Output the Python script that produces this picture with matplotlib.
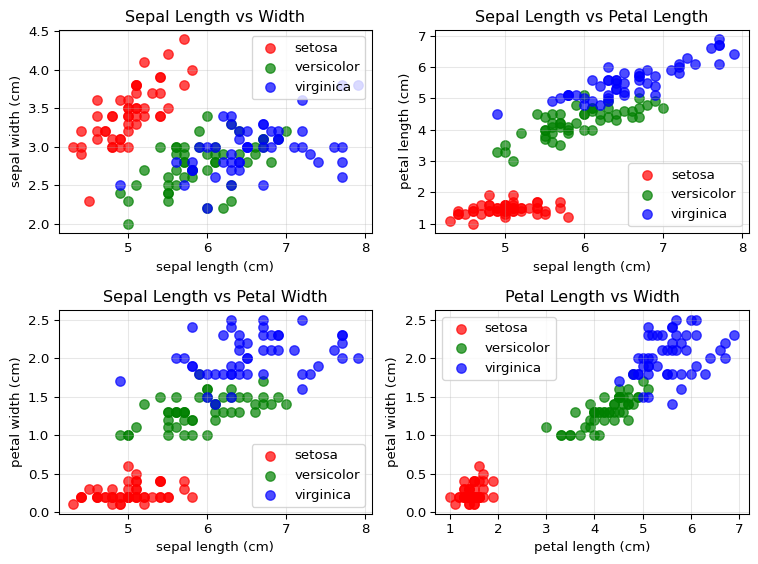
import matplotlib
matplotlib.use("Agg")
import matplotlib.pyplot as plt
import numpy as np

# Iris measurements (cm), 50 rows per species
SPECIES = ["setosa", "versicolor", "virginica"]
COLORS = ["red", "green", "blue"]

SEPAL_LENGTH = [
    5.1, 4.9, 4.7, 4.6, 5.0, 5.4, 4.6, 5.0, 4.4, 4.9, 5.4, 4.8, 4.8, 4.3, 5.8, 5.7, 5.4, 5.1, 5.7, 5.1,
    5.4, 5.1, 4.6, 5.1, 4.8, 5.0, 5.0, 5.2, 5.2, 4.7, 4.8, 5.4, 5.2, 5.5, 4.9, 5.0, 5.5, 4.9, 4.4, 5.1,
    5.0, 4.5, 4.4, 5.0, 5.1, 4.8, 5.1, 4.6, 5.3, 5.0,
    7.0, 6.4, 6.9, 5.5, 6.5, 5.7, 6.3, 4.9, 6.6, 5.2, 5.0, 5.9, 6.0, 6.1, 5.6, 6.7, 5.6, 5.8, 6.2, 5.6,
    5.9, 6.1, 6.3, 6.1, 6.4, 6.6, 6.8, 6.7, 6.0, 5.7, 5.5, 5.5, 5.8, 6.0, 5.4, 6.0, 6.7, 6.3, 5.6, 5.5,
    5.5, 6.1, 5.8, 5.0, 5.6, 5.7, 5.7, 6.2, 5.1, 5.7,
    6.3, 5.8, 7.1, 6.3, 6.5, 7.6, 4.9, 7.3, 6.7, 7.2, 6.5, 6.4, 6.8, 5.7, 5.8, 6.4, 6.5, 7.7, 7.7, 6.0,
    6.9, 5.6, 7.7, 6.3, 6.7, 7.2, 6.2, 6.1, 6.4, 7.2, 7.4, 7.9, 6.4, 6.3, 6.1, 7.7, 6.3, 6.4, 6.0, 6.9,
    6.7, 6.9, 5.8, 6.8, 6.7, 6.7, 6.3, 6.5, 6.2, 5.9,
]
SEPAL_WIDTH = [
    3.5, 3.0, 3.2, 3.1, 3.6, 3.9, 3.4, 3.4, 2.9, 3.1, 3.7, 3.4, 3.0, 3.0, 4.0, 4.4, 3.9, 3.5, 3.8, 3.8,
    3.4, 3.7, 3.6, 3.3, 3.4, 3.0, 3.4, 3.5, 3.4, 3.2, 3.1, 3.4, 4.1, 4.2, 3.1, 3.2, 3.5, 3.6, 3.0, 3.4,
    3.5, 2.3, 3.2, 3.5, 3.8, 3.0, 3.8, 3.2, 3.7, 3.3,
    3.2, 3.2, 3.1, 2.3, 2.8, 2.8, 3.3, 2.4, 2.9, 2.7, 2.0, 3.0, 2.2, 2.9, 2.9, 3.1, 3.0, 2.7, 2.2, 2.5,
    3.2, 2.8, 2.5, 2.8, 2.9, 3.0, 2.8, 3.0, 2.9, 2.6, 2.4, 2.4, 2.7, 2.7, 3.0, 3.4, 3.1, 2.3, 3.0, 2.5,
    2.6, 3.0, 2.6, 2.3, 2.7, 3.0, 2.9, 2.9, 2.5, 2.8,
    3.3, 2.7, 3.0, 2.9, 3.0, 3.0, 2.5, 2.9, 2.5, 3.6, 3.2, 2.7, 3.0, 2.5, 2.8, 3.2, 3.0, 3.8, 2.6, 2.2,
    3.2, 2.8, 2.8, 2.7, 3.3, 3.2, 2.8, 3.0, 2.8, 3.0, 2.8, 3.8, 2.8, 2.8, 2.6, 3.0, 3.4, 3.1, 3.0, 3.1,
    3.1, 3.1, 2.7, 3.2, 3.3, 3.0, 2.5, 3.0, 3.4, 3.0,
]
PETAL_LENGTH = [
    1.4, 1.4, 1.3, 1.5, 1.4, 1.7, 1.4, 1.5, 1.4, 1.5, 1.5, 1.6, 1.4, 1.1, 1.2, 1.5, 1.3, 1.4, 1.7, 1.5,
    1.7, 1.5, 1.0, 1.7, 1.9, 1.6, 1.6, 1.5, 1.4, 1.6, 1.6, 1.5, 1.5, 1.4, 1.5, 1.2, 1.3, 1.4, 1.3, 1.5,
    1.3, 1.3, 1.3, 1.6, 1.9, 1.4, 1.6, 1.4, 1.5, 1.4,
    4.7, 4.5, 4.9, 4.0, 4.6, 4.5, 4.7, 3.3, 4.6, 3.9, 3.5, 4.2, 4.0, 4.7, 3.6, 4.4, 4.5, 4.1, 4.5, 3.9,
    4.8, 4.0, 4.9, 4.7, 4.3, 4.4, 4.8, 5.0, 4.5, 3.5, 3.8, 3.7, 3.9, 5.1, 4.5, 4.5, 4.7, 4.4, 4.1, 4.0,
    4.4, 4.6, 4.0, 3.3, 4.2, 4.2, 4.2, 4.3, 3.0, 4.1,
    6.0, 5.1, 5.9, 5.6, 5.8, 6.6, 4.5, 6.3, 5.8, 6.1, 5.1, 5.3, 5.5, 5.0, 5.1, 5.3, 5.5, 6.7, 6.9, 5.0,
    5.7, 4.9, 6.7, 4.9, 5.7, 6.0, 4.8, 4.9, 5.6, 5.8, 6.1, 6.4, 5.6, 5.1, 5.6, 6.1, 5.6, 5.5, 4.8, 5.4,
    5.6, 5.1, 5.1, 5.9, 5.7, 5.2, 5.0, 5.2, 5.4, 5.1,
]
PETAL_WIDTH = [
    0.2, 0.2, 0.2, 0.2, 0.2, 0.4, 0.3, 0.2, 0.2, 0.1, 0.2, 0.2, 0.1, 0.1, 0.2, 0.4, 0.4, 0.3, 0.3, 0.3,
    0.2, 0.4, 0.2, 0.5, 0.2, 0.2, 0.4, 0.2, 0.2, 0.2, 0.2, 0.4, 0.1, 0.2, 0.2, 0.2, 0.2, 0.1, 0.2, 0.2,
    0.3, 0.3, 0.2, 0.6, 0.4, 0.3, 0.2, 0.2, 0.2, 0.2,
    1.4, 1.5, 1.5, 1.3, 1.5, 1.3, 1.6, 1.0, 1.3, 1.4, 1.0, 1.5, 1.0, 1.4, 1.3, 1.4, 1.5, 1.0, 1.5, 1.1,
    1.8, 1.3, 1.5, 1.2, 1.3, 1.4, 1.4, 1.7, 1.5, 1.0, 1.1, 1.0, 1.2, 1.6, 1.5, 1.6, 1.5, 1.3, 1.3, 1.3,
    1.2, 1.4, 1.2, 1.0, 1.3, 1.2, 1.3, 1.3, 1.1, 1.3,
    2.5, 1.9, 2.1, 1.8, 2.2, 2.1, 1.7, 1.8, 1.8, 2.5, 2.0, 1.9, 2.1, 2.0, 2.4, 2.3, 1.8, 2.2, 2.3, 1.5,
    2.3, 2.0, 2.0, 1.8, 2.1, 1.8, 1.8, 1.8, 2.1, 1.6, 1.9, 2.0, 2.2, 1.5, 1.4, 2.3, 2.4, 1.8, 1.8, 2.1,
    2.4, 2.3, 1.9, 2.3, 2.5, 2.3, 1.9, 2.0, 2.3, 1.8,
]
TARGET = [0] * 50 + [1] * 50 + [2] * 50

COLUMNS = {
    "sepal length (cm)": np.array(SEPAL_LENGTH),
    "sepal width (cm)": np.array(SEPAL_WIDTH),
    "petal length (cm)": np.array(PETAL_LENGTH),
    "petal width (cm)": np.array(PETAL_WIDTH),
}

PANELS = [
    ("sepal length (cm)", "sepal width (cm)", "Sepal Length vs Width", "upper right"),
    ("sepal length (cm)", "petal length (cm)", "Sepal Length vs Petal Length", "lower right"),
    ("sepal length (cm)", "petal width (cm)", "Sepal Length vs Petal Width", "lower right"),
    ("petal length (cm)", "petal width (cm)", "Petal Length vs Width", "upper left"),
]

target = np.array(TARGET)
fig, axes = plt.subplots(2, 2, figsize=(8, 6))

for ax, (xcol, ycol, title, loc) in zip(axes.flat, PANELS):
    for i, (name, color) in enumerate(zip(SPECIES, COLORS)):
        mask = target == i
        ax.scatter(COLUMNS[xcol][mask], COLUMNS[ycol][mask], c=color,
                   label=name, alpha=0.7, s=50)
    ax.set_xlabel(xcol)
    ax.set_ylabel(ycol)
    ax.set_title(title)
    ax.legend(loc=loc)
    ax.grid(True, alpha=0.3)

plt.tight_layout()
fig.savefig("out.png", dpi=96, bbox_inches="tight")
